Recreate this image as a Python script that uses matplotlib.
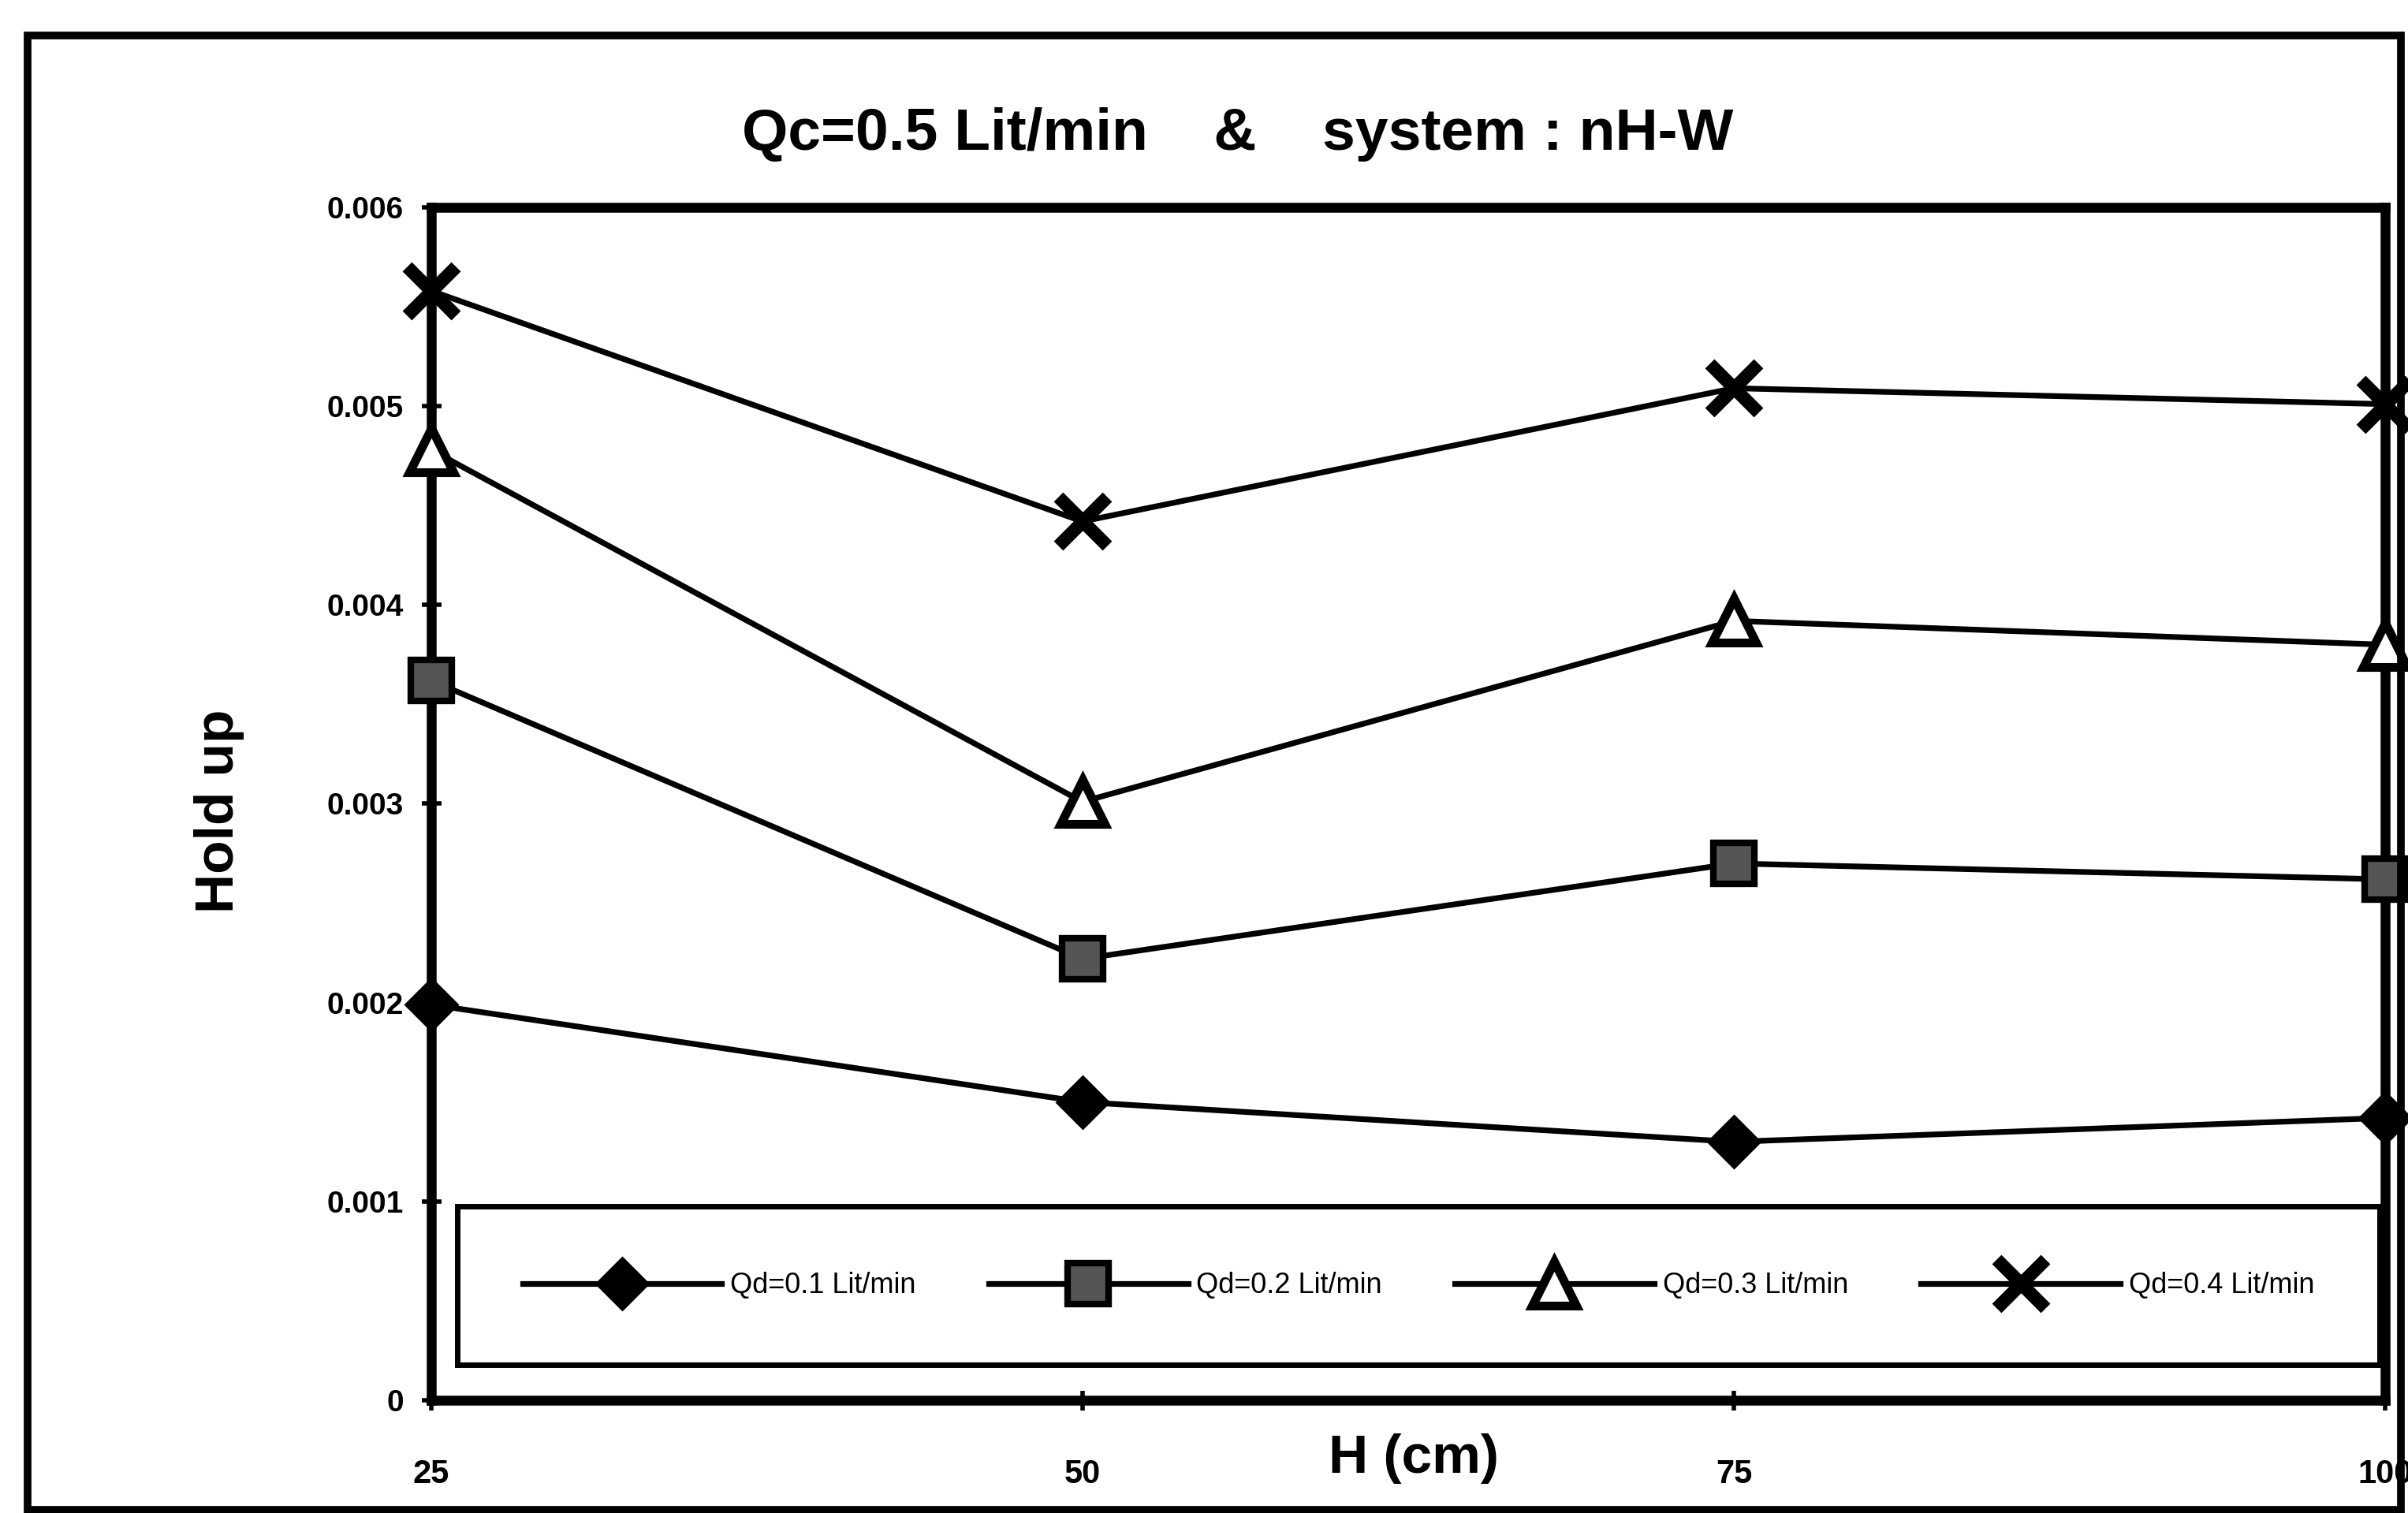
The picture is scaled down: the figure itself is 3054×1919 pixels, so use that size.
import matplotlib
matplotlib.use("Agg")
import matplotlib.pyplot as plt
from matplotlib.patches import Rectangle

plt.rcParams["font.family"] = ["Liberation Sans Narrow", "Liberation Sans", "DejaVu Sans"]

# data
h_cm = [25, 50, 75, 100]
qd_01 = [0.00199, 0.00150, 0.00130, 0.00142]
qd_02 = [0.00362, 0.00222, 0.00270, 0.00262]
qd_03 = [0.00478, 0.00301, 0.00392, 0.00380]
qd_04 = [0.00558, 0.00442, 0.00509, 0.00501]
series_labels = ["Qd=0.1 Lit/min", "Qd=0.2 Lit/min", "Qd=0.3 Lit/min", "Qd=0.4 Lit/min"]

x_ticks = [25, 50, 75, 100]
x_tick_labels = ["25", "50", "75", "100"]
y_ticks = [0, 0.001, 0.002, 0.003, 0.004, 0.005, 0.006]
y_tick_labels = ["0", "0.001", "0.002", "0.003", "0.004", "0.005", "0.006"]

fig = plt.figure(figsize=(15.27, 9.595), dpi=200)
ax = fig.add_axes([0.179, 0.0745, 0.8115, 0.7885])

# outer chart frame
fig.patches.append(Rectangle((0.0115, 0.002), 0.9855, 0.9746, transform=fig.transFigure,
                             fill=False, edgecolor="black", linewidth=3.5))

lw = 2.6
ax.plot(h_cm, qd_01, color="black", lw=lw, marker="D", ms=17, mfc="black", mec="black",
        label=series_labels[0], clip_on=False, zorder=3)
ax.plot(h_cm, qd_02, color="black", lw=lw, marker="s", ms=19, mfc="#555555", mec="black", mew=3,
        label=series_labels[1], clip_on=False, zorder=3)
ax.plot(h_cm, qd_03, color="black", lw=lw, marker="^", ms=20, mfc="white", mec="black", mew=4,
        label=series_labels[2], clip_on=False, zorder=3)
ax.plot(h_cm, qd_04, color="black", lw=lw, marker="x", ms=22, mec="black", mew=6,
        label=series_labels[3], clip_on=False, zorder=3)

ax.set_xlim(25, 100)
ax.set_ylim(0, 0.006)
ax.set_xticks(x_ticks)
ax.set_xticklabels(x_tick_labels, fontsize=15, fontweight="bold")
ax.set_yticks(y_ticks)
ax.set_yticklabels(y_tick_labels, fontsize=14, fontweight="bold")
ax.tick_params(axis="x", direction="inout", length=9, width=2, pad=22)
ax.tick_params(axis="y", direction="inout", length=9, width=2, pad=8)

for s in ax.spines.values():
    s.set_linewidth(4.5)

fig.text(0.514, 0.911, "Qc=0.5 Lit/min    &    system : nH-W", ha="center", va="center",
         fontsize=27, fontweight="bold")
fig.text(0.091, 0.464, "Hold up", ha="center", va="center", rotation=90,
         fontsize=25, fontweight="bold")
fig.text(0.587, 0.036, "H (cm)", ha="center", va="center", fontsize=25, fontweight="bold")

leg = ax.legend(loc="center", ncol=4, mode="expand", bbox_to_anchor=(0.0133, 0.030, 0.984, 0.132),
                fontsize=13, handlelength=7, handletextpad=0.3, columnspacing=0.5,
                borderpad=2.3, fancybox=False, framealpha=1, borderaxespad=0)
leg.get_frame().set_edgecolor("black")
leg.get_frame().set_linewidth(2.5)

fig.savefig("out.png", dpi=200)
